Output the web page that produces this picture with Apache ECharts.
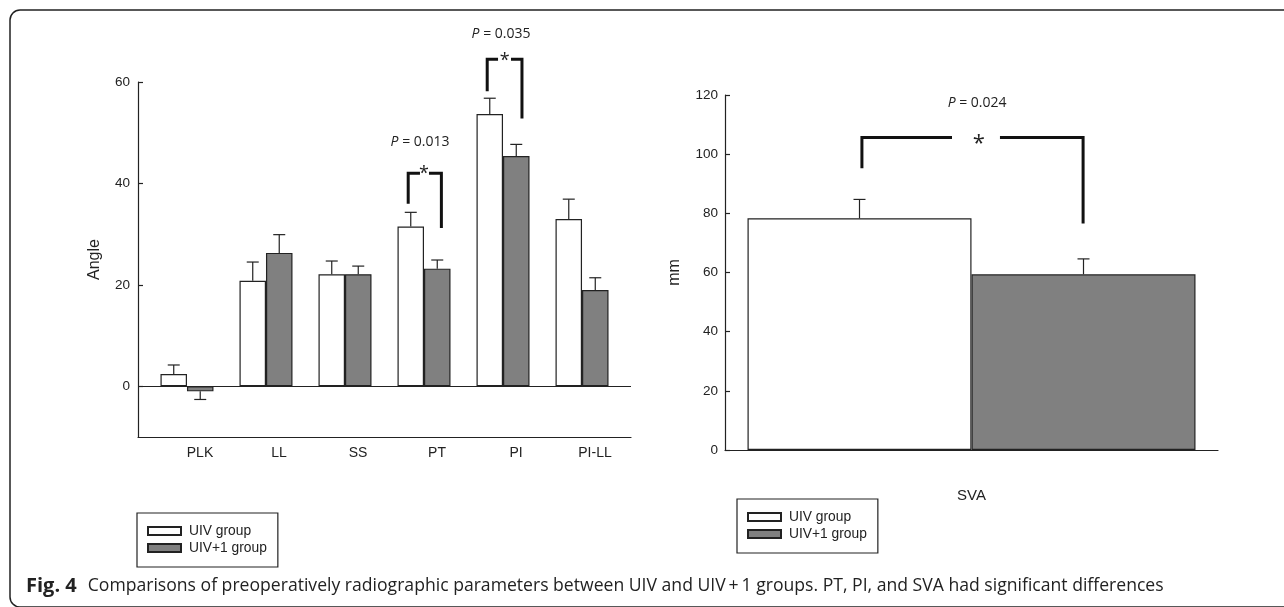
<!DOCTYPE html>
<html><head><meta charset="utf-8">
<script src="https://cdn.jsdelivr.net/npm/echarts@6/dist/echarts.min.js"></script>
<style>html,body{margin:0;padding:0;background:#fff}#c{width:1284px;height:607px}</style>
</head><body><div id="c"></div>
<script>
// ---- data ----
const categories = ['PLK', 'LL', 'SS', 'PT', 'PI', 'PI-LL'];
const uivMean  = [2.4, 20.8, 22.1, 31.5, 53.7, 33.0];
const uivErr   = [1.8, 3.7, 2.6, 2.8, 3.1, 3.9];
const uiv1Mean = [-1.0, 26.3, 22.1, 23.2, 45.4, 19.0];
const uiv1Err  = [1.6, 3.6, 1.6, 1.7, 2.3, 2.4];
const angleTicks = [0, 20, 40, 60];

const svaCategory = ['SVA'];
const svaUivMean = [78.3];
const svaUivErr = [6.4];
const svaUiv1Mean = [59.4];
const svaUiv1Err = [5.2];
const mmTicks = [0, 20, 40, 60, 80, 100, 120];

const seriesNames = ['UIV group', 'UIV+1 group'];
const pValuesLeft = ['0.013', '0.035'];
const pValuesRight = ['0.024'];
// significance brackets (data coordinates): [xLeft, xRight, yTop, yLeftEnd, yRightEnd, gapLeft, gapRight, starX, starY, pX, pY]
const bracketsLeft = [
  [2.80, 3.22, 42.0, 36.0, 31.2, 2.949, 3.063, 3.00, 41.8, 2.95, 48.1],
  [3.80, 4.24, 64.5, 58.2, 52.8, 3.937, 4.101, 4.02, 64.1, 3.975, 69.4]
];
const bracketsRight = [
  [-0.489, 0.498, 105.6, 95.2, 76.6, -0.087, 0.127, 0.033, 103.4, 0.025, 117.3]
];
const caption = 'Comparisons of preoperatively radiographic parameters between UIV and UIV\u2009+\u20091 groups. PT, PI, and SVA had significant differences';

// ---- styles ----
const INK = '#222';
const GRAY = '#808080';
const BW_L = 26.5, BW_R = 224;
const FONT = 'Liberation Sans';

function errRender(barW) {
  return function (params, api) {
    const x = api.value(0), y = api.value(1), e = api.value(2), side = api.value(3);
    const dir = y < 0 ? -1 : 1;
    const p0 = api.coord([x, y]);
    const p1 = api.coord([x, y + dir * e]);
    const cx = p0[0] + side * barW / 2;
    return { type: 'group', children: [
      { type: 'line', shape: { x1: cx, y1: p0[1], x2: cx, y2: p1[1] }, style: { stroke: INK, lineWidth: 1.2 } },
      { type: 'line', shape: { x1: cx - 6, y1: p1[1], x2: cx + 6, y2: p1[1] }, style: { stroke: INK, lineWidth: 1.2 } }
    ] };
  };
}
function bracketRender(pvals, starSize) {
  return function (params, api) {
    const v = i => api.value(i);
    const a = api.coord([v(0), v(3)]), b = api.coord([v(0), v(2)]), g1 = api.coord([v(5), v(2)]);
    const g2 = api.coord([v(6), v(2)]), c = api.coord([v(1), v(2)]), d = api.coord([v(1), v(4)]);
    const s = api.coord([v(7), v(8)]), p = api.coord([v(9), v(10)]);
    const ls = { stroke: '#111', lineWidth: 3, fill: null, lineJoin: 'miter' };
    return { type: 'group', children: [
      { type: 'polyline', shape: { points: [a, b, g1] }, style: ls },
      { type: 'polyline', shape: { points: [g2, c, d] }, style: ls },
      { type: 'text', x: s[0], y: s[1], style: { text: '*', fontSize: starSize, fontFamily: 'Open Sans', fill: '#222', align: 'center', verticalAlign: 'middle' } },
      { type: 'text', x: p[0], y: p[1], style: { text: '{i|P} = ' + pvals[params.dataIndex], fontSize: 14, fontFamily: 'Open Sans', fill: '#222', align: 'center', verticalAlign: 'middle',
        rich: { i: { fontStyle: 'italic', fontSize: 14, fontFamily: 'Open Sans', fill: '#222' } } } }
    ] };
  };
}

const axisCommon = {
  axisLine: { show: true, onZero: false, lineStyle: { color: INK, width: 1.2 } },
  splitLine: { show: false }
};
const legendCommon = {
  orient: 'vertical', icon: 'rect', itemWidth: 33, itemHeight: 8, itemGap: 3,
  padding: [11, 11, 12, 10], borderColor: INK, borderWidth: 1.2, backgroundColor: '#fff',
  selectedMode: false, data: seriesNames,
  textStyle: { fontFamily: FONT, fontSize: 13.8, color: INK, padding: [0, 0, 0, 3] }
};

const chart = echarts.init(document.getElementById('c'), null, { renderer: 'canvas' });
chart.setOption({
  animation: false,
  backgroundColor: '#fff',
  grid: [
    { left: 138, top: 82, width: 493, height: 355, outerBoundsMode: 'none' },
    { left: 725, top: 95, width: 493, height: 355, outerBoundsMode: 'none' }
  ],
  xAxis: [
    Object.assign({}, axisCommon, {
      type: 'value', gridIndex: 0, min: -0.62, max: 5.62,
      axisTick: { show: false },
      axisLabel: { customValues: categories.map((c, i) => i), formatter: v => categories[Math.round(v)],
        fontFamily: FONT, fontSize: 14, color: INK, margin: 9, padding: [0, 0, 0, 26] }
    }),
    Object.assign({}, axisCommon, {
      type: 'value', gridIndex: 1, min: -1.1, max: 1.1,
      axisTick: { show: false },
      axisLabel: { customValues: [0], formatter: () => svaCategory[0],
        fontFamily: FONT, fontSize: 15, color: INK, margin: 38 }
    })
  ],
  yAxis: [
    Object.assign({}, axisCommon, {
      type: 'value', gridIndex: 0, min: -10, max: 60,
      name: 'Angle', nameLocation: 'middle', nameGap: 35,
      nameTextStyle: { fontFamily: FONT, fontSize: 16, color: INK },
      axisTick: { show: true, inside: true, length: 5, customValues: angleTicks, lineStyle: { color: INK, width: 1.2 } },
      axisLabel: { customValues: angleTicks, fontFamily: FONT, fontSize: 13.5, color: INK, margin: 8 }
    }),
    Object.assign({}, axisCommon, {
      type: 'value', gridIndex: 1, min: 0, max: 120, interval: 20,
      name: 'mm', nameLocation: 'middle', nameGap: 42,
      nameTextStyle: { fontFamily: FONT, fontSize: 16, color: INK },
      axisTick: { show: true, inside: true, length: 5, customValues: mmTicks, lineStyle: { color: INK, width: 1.2 } },
      axisLabel: { customValues: mmTicks, fontFamily: FONT, fontSize: 13.5, color: INK, margin: 7 }
    })
  ],
  legend: [
    Object.assign({}, legendCommon, { left: 137, top: 513 }),
    Object.assign({}, legendCommon, { left: 737, top: 499 })
  ],
  series: [
    { name: seriesNames[0], type: 'bar', xAxisIndex: 0, yAxisIndex: 0, barWidth: BW_L, barGap: '0%',
      data: categories.map((c, i) => [i, uivMean[i]]),
      itemStyle: { color: '#fff', borderColor: INK, borderWidth: 1.2 },
      markLine: { silent: true, symbol: 'none', label: { show: false }, lineStyle: { color: INK, width: 1.2, type: 'solid' },
        data: [{ yAxis: 0 }] } },
    { name: seriesNames[1], type: 'bar', xAxisIndex: 0, yAxisIndex: 0, barWidth: BW_L, barGap: '0%',
      data: categories.map((c, i) => [i, uiv1Mean[i]]),
      itemStyle: { color: GRAY, borderColor: INK, borderWidth: 1.2 } },
    { name: seriesNames[0], type: 'bar', xAxisIndex: 1, yAxisIndex: 1, barWidth: BW_R, barGap: '0%',
      data: svaCategory.map((c, i) => [i, svaUivMean[i]]),
      itemStyle: { color: '#fff', borderColor: INK, borderWidth: 1.2 } },
    { name: seriesNames[1], type: 'bar', xAxisIndex: 1, yAxisIndex: 1, barWidth: BW_R, barGap: '0%',
      data: svaCategory.map((c, i) => [i, svaUiv1Mean[i]]),
      itemStyle: { color: GRAY, borderColor: INK, borderWidth: 1.2 } },
    { type: 'custom', xAxisIndex: 0, yAxisIndex: 0, z: 5, silent: true, renderItem: errRender(BW_L),
      data: categories.map((c, i) => [i, uivMean[i], uivErr[i], -1]).concat(categories.map((c, i) => [i, uiv1Mean[i], uiv1Err[i], 1])) },
    { type: 'custom', xAxisIndex: 1, yAxisIndex: 1, z: 5, silent: true, renderItem: errRender(BW_R),
      data: svaCategory.map((c, i) => [i, svaUivMean[i], svaUivErr[i], -1]).concat(svaCategory.map((c, i) => [i, svaUiv1Mean[i], svaUiv1Err[i], 1])) },
    { type: 'custom', xAxisIndex: 0, yAxisIndex: 0, z: 6, silent: true, clip: false, renderItem: bracketRender(pValuesLeft, 18), data: bracketsLeft },
    { type: 'custom', xAxisIndex: 1, yAxisIndex: 1, z: 6, silent: true, clip: false, renderItem: bracketRender(pValuesRight, 22), data: bracketsRight }
  ],
  graphic: [
    { type: 'rect', shape: { x: 10, y: 10, width: 1300, height: 597, r: 10 }, style: { fill: null, stroke: INK, lineWidth: 1.5 }, silent: true },
    { type: 'text', x: 26, y: 586, style: { text: '{b|Fig. 4}{t|' + caption + '}', verticalAlign: 'middle', fill: INK,
      rich: { b: { fontFamily: 'Open Sans', fontWeight: 'bold', fontSize: 20, fill: INK, padding: [0, 11, 0, 0] },
              t: { fontFamily: 'Open Sans', fontSize: 17.6, fill: INK } } }, silent: true }
  ]
});
</script></body></html>
